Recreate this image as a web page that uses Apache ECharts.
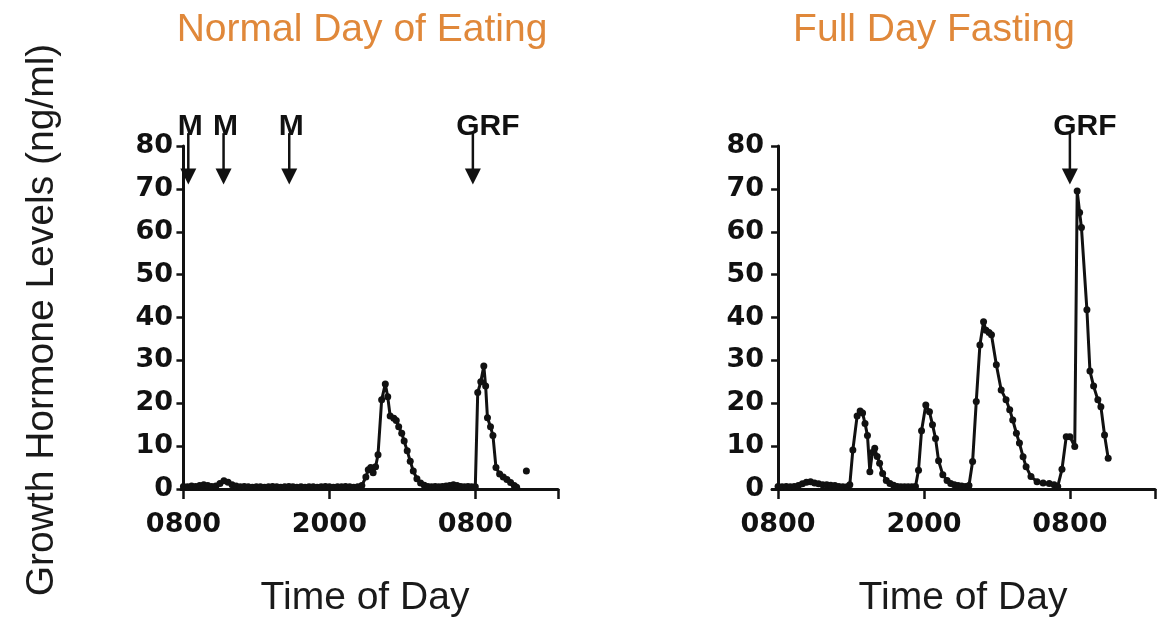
<!DOCTYPE html>
<html>
<head>
<meta charset="utf-8">
<title>Growth Hormone Levels</title>
<script src="https://cdn.jsdelivr.net/npm/echarts@6/dist/echarts.min.js"></script>
<style>
  html, body { margin: 0; padding: 0; background: #ffffff; }
  #chart { width: 1171px; height: 625px; }
</style>
</head>
<body>
<div id="chart"></div>
<script>
// Hours are counted from 0800 on the first day.
const tickHours = [0, 12, 24];
const tickLabels = ['0800', '2000', '0800'];

// Growth hormone (ng/ml) on a normal day of eating
const normalHours = [
  0, 0.33, 0.67, 1.0, 1.33, 1.67, 2.0, 2.33, 2.67, 3.0, 3.33, 3.67, 4.0, 4.33, 4.67,
  5.0, 5.33, 5.67, 6.0, 6.33, 6.67, 7.0, 7.33, 7.67, 8.0, 8.33, 8.67, 9.0, 9.33, 9.67,
  10.0, 10.33, 10.67, 11.0, 11.33, 11.67, 12.0, 12.33, 12.67, 13.0, 13.33, 13.67, 14.0, 14.33, 14.67,
  15.0, 15.2, 15.4, 15.6, 15.8, 16.0, 16.3, 16.6, 16.8, 17.0, 17.3, 17.5, 17.7, 17.95, 18.15,
  18.4, 18.65, 18.9, 19.2, 19.5, 19.8, 20.1, 20.4, 20.7, 21.0, 21.3, 21.6, 21.9, 22.2, 22.5,
  22.8, 23.1, 23.4, 23.7, 24.0, 24.2, 24.45, 24.7, 24.85, 25.0, 25.25, 25.45, 25.7, 26.0, 26.3,
  26.6, 26.9, 27.2, 27.4, 27.8, 28.2
];
const normalLevels = [
  0.6, 0.5, 0.7, 0.6, 0.8, 1.0, 0.8, 0.6, 0.7, 1.3, 1.9, 1.6, 1.0, 0.7, 0.5,
  0.6, 0.5, 0.4, 0.5, 0.5, 0.4, 0.5, 0.6, 0.5, 0.4, 0.5, 0.6, 0.5, 0.4, 0.5,
  0.4, 0.5, 0.5, 0.4, 0.5, 0.6, 0.5, 0.4, 0.5, 0.5, 0.6, 0.5, 0.4, 0.5, 0.8,
  2.8, 4.5, 5.0, 3.8, 5.2, 8.0, 20.8, 24.5, 21.5, 17.0, 16.5, 16.0, 14.5, 13.0, 11.2,
  8.9, 6.5, 4.2, 2.4, 1.4, 0.9, 0.6, 0.5, 0.6, 0.5, 0.6, 0.7, 0.8, 1.0, 0.8,
  0.6, 0.5, 0.6, 0.5, 0.5, 22.5, 25.0, 28.7, 24.0, 16.6, 14.5, 12.5, 5.0, 3.5, 2.8,
  2.2, 1.5, 0.8, 0.4, null, 4.2
];

// Growth hormone (ng/ml) over a full day of fasting
const fastingHours = [
  0, 0.33, 0.67, 1.0, 1.33, 1.67, 2.0, 2.33, 2.67, 3.0, 3.33, 3.67, 4.0, 4.33, 4.67,
  5.0, 5.33, 5.67, 5.9, 6.15, 6.5, 6.75, 6.95, 7.15, 7.35, 7.55, 7.75, 7.95, 8.15, 8.35,
  8.6, 8.9, 9.2, 9.5, 9.8, 10.1, 10.4, 10.7, 11.0, 11.3, 11.55, 11.8, 12.15, 12.45, 12.7,
  12.95, 13.2, 13.55, 13.9, 14.2, 14.5, 14.8, 15.1, 15.4, 15.7, 16.0, 16.3, 16.6, 16.9, 17.1,
  17.35, 17.55, 17.95, 18.35, 18.75, 19.05, 19.3, 19.6, 19.85, 20.15, 20.4, 20.8, 21.3, 21.8, 22.3,
  22.7, 23.0, 23.35, 23.7, 24.0, 24.4, 24.6, 24.8, 24.95, 25.4, 25.65, 25.95, 26.3, 26.55, 26.85,
  27.15
];
const fastingLevels = [
  0.6, 0.5, 0.6, 0.5, 0.6, 0.8, 1.2, 1.6, 1.7, 1.4, 1.2, 1.0, 1.0, 0.9, 0.8,
  0.6, 0.5, 0.5, 1.0, 9.1, 17.0, 18.2, 17.7, 15.3, 12.5, 4.0, 8.5, 9.5, 7.6, 6.0,
  3.6, 2.0, 1.3, 0.9, 0.6, 0.5, 0.5, 0.5, 0.5, 0.6, 4.4, 13.6, 19.6, 18.0, 15.0,
  11.8, 6.6, 3.3, 2.0, 1.3, 1.0, 0.8, 0.7, 0.6, 0.8, 6.4, 20.4, 33.6, 39.0, 37.0,
  36.5, 36.0, 29.0, 23.1, 20.8, 18.5, 16.1, 13.0, 10.7, 7.5, 5.2, 2.9, 1.7, 1.4, 1.3,
  1.0, 0.6, 4.6, 12.2, 12.2, 9.9, 69.5, 64.5, 61.0, 41.8, 27.5, 24.0, 20.8, 19.2, 12.6,
  7.2
];

// Events marked with arrows: meals (M) and GRF injection
const normalEventHours = [0.4, 3.3, 8.7, 23.8];
const normalEventLabels = ['M', 'M', 'M', 'GRF'];
const fastingEventHours = [24.0];
const fastingEventLabels = ['GRF'];

const INK = '#111111';
const TITLE_COLOR = '#e0883a';
const BIG_FONT = '"Liberation Sans", Arial, Helvetica, sans-serif';
const TICK_FONT = '"DejaVu Sans", sans-serif';

function pairs(xs, ys) {
  return xs.map((x, i) => [x, ys[i] === null ? '-' : ys[i]]);
}

function xAxisFor(gridIndex, min, max) {
  return {
    type: 'value',
    gridIndex: gridIndex,
    min: min,
    max: max,
    splitLine: { show: false },
    axisLine: { show: true, onZero: false, lineStyle: { color: INK, width: 3 } },
    axisTick: {
      show: true,
      length: 10,
      customValues: tickHours.concat([max]),
      lineStyle: { color: INK, width: 2.5 }
    },
    axisLabel: {
      customValues: tickHours,
      formatter: v => tickLabels[tickHours.indexOf(v)],
      margin: 22,
      color: INK,
      fontFamily: TICK_FONT,
      fontWeight: 'bold',
      fontSize: 27
    }
  };
}

function yAxisFor(gridIndex) {
  return {
    type: 'value',
    gridIndex: gridIndex,
    min: 0,
    max: 80,
    interval: 10,
    splitLine: { show: false },
    axisLine: { show: true, lineStyle: { color: INK, width: 3 } },
    axisTick: { show: true, length: 7, lineStyle: { color: INK, width: 2.5 } },
    axisLabel: {
      margin: 8,
      color: INK,
      fontFamily: TICK_FONT,
      fontWeight: 'bold',
      fontSize: 27
    }
  };
}

function lineSeries(axisIndex, xs, ys) {
  return {
    type: 'line',
    xAxisIndex: axisIndex,
    yAxisIndex: axisIndex,
    data: pairs(xs, ys),
    symbol: 'circle',
    symbolSize: 7,
    showSymbol: true,
    connectNulls: false,
    lineStyle: { color: INK, width: 3 },
    itemStyle: { color: INK },
    animation: false,
    z: 3
  };
}

// Downward arrows with their labels above the plotting area
function eventSeries(axisIndex, hours, labels) {
  return {
    type: 'custom',
    xAxisIndex: axisIndex,
    yAxisIndex: axisIndex,
    data: hours.map(h => [h, 0]),
    clip: false,
    animation: false,
    renderItem: function (params, api) {
      const x = api.coord([api.value(0), 0])[0];
      const yTop = api.coord([0, 83])[1];
      const yTip = api.coord([0, 71])[1];
      const yText = api.coord([0, 84.6])[1];
      const label = labels[params.dataIndex];
      const headLen = 16, headHalf = 8;
      const dx = label.length > 1 ? 15 : 2;
      return {
        type: 'group',
        children: [
          {
            type: 'line',
            shape: { x1: x, y1: yTop, x2: x, y2: yTip - headLen + 1 },
            style: { stroke: INK, lineWidth: 2.5 }
          },
          {
            type: 'polygon',
            shape: { points: [[x - headHalf, yTip - headLen], [x + headHalf, yTip - headLen], [x, yTip]] },
            style: { fill: INK }
          },
          {
            type: 'text',
            x: x + dx,
            y: yText,
            style: {
              text: label,
              fill: INK,
              font: 'bold 30px ' + BIG_FONT,
              align: 'center',
              verticalAlign: 'middle'
            }
          }
        ]
      };
    }
  };
}

const chart = echarts.init(document.getElementById('chart'), null, { renderer: 'canvas' });

chart.setOption({
  backgroundColor: '#ffffff',
  animation: false,
  grid: [
    { left: 181, top: 146, width: 377, height: 343 },
    { left: 772, top: 146, width: 383, height: 343 }
  ],
  xAxis: [xAxisFor(0, -0.2, 30.8), xAxisFor(1, -0.5, 31)],
  yAxis: [yAxisFor(0), yAxisFor(1)],
  series: [
    lineSeries(0, normalHours, normalLevels),
    lineSeries(1, fastingHours, fastingLevels),
    eventSeries(0, normalEventHours, normalEventLabels),
    eventSeries(1, fastingEventHours, fastingEventLabels)
  ],
  graphic: [
    {
      type: 'text', x: 362, y: 30,
      style: { text: 'Normal Day of Eating', font: '39px ' + BIG_FONT, fill: TITLE_COLOR, align: 'center', verticalAlign: 'middle' }
    },
    {
      type: 'text', x: 934, y: 30,
      style: { text: 'Full Day Fasting', font: '39px ' + BIG_FONT, fill: TITLE_COLOR, align: 'center', verticalAlign: 'middle' }
    },
    {
      type: 'text', x: 42, y: 320, rotation: Math.PI / 2,
      style: { text: 'Growth Hormone Levels (ng/ml)', font: '39px ' + BIG_FONT, fill: '#1a1a1a', align: 'center', verticalAlign: 'middle' }
    },
    {
      type: 'text', x: 365, y: 598,
      style: { text: 'Time of Day', font: '39px ' + BIG_FONT, fill: '#1a1a1a', align: 'center', verticalAlign: 'middle' }
    },
    {
      type: 'text', x: 963, y: 598,
      style: { text: 'Time of Day', font: '39px ' + BIG_FONT, fill: '#1a1a1a', align: 'center', verticalAlign: 'middle' }
    }
  ]
});
</script>
</body>
</html>
